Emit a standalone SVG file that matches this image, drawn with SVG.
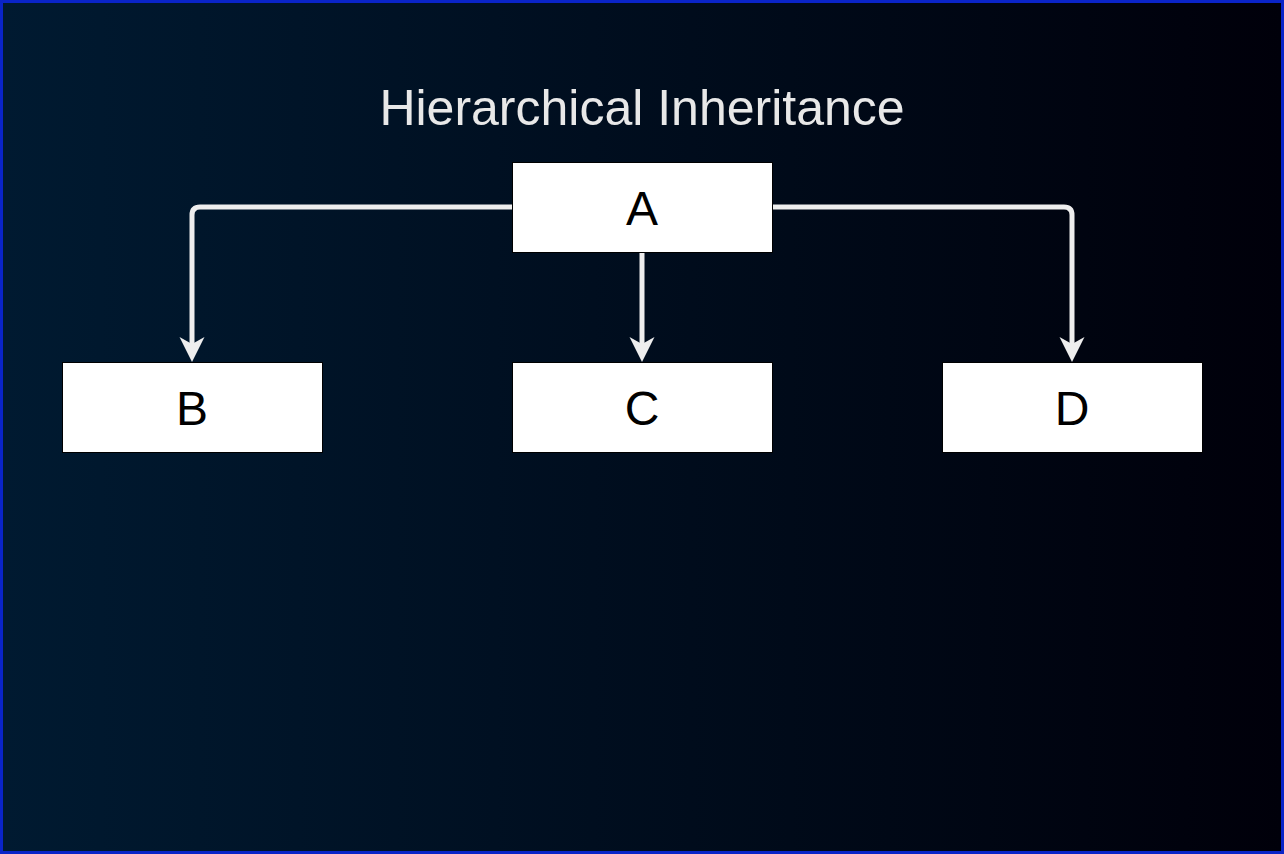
<svg xmlns="http://www.w3.org/2000/svg" width="1284" height="854" viewBox="0 0 1284 854">
  <defs>
    <linearGradient id="bg" x1="0" y1="0" x2="1" y2="0">
      <stop offset="0" stop-color="#001a31"/>
      <stop offset="1" stop-color="#00000a"/>
    </linearGradient>
    <marker id="ah" markerUnits="userSpaceOnUse" markerWidth="30" markerHeight="30" viewBox="-15 -12 30 30" refX="0" refY="0" orient="0" overflow="visible">
      <path d="M0 17 L-12.5 -8 L0 -1 L12.5 -8 Z" fill="#eeeeee"/>
    </marker>
  </defs>
  <style>
    .node rect { fill: #ffffff; stroke: #000000; stroke-width: 1; }
    .node text { font-family: "Liberation Sans", Arial, sans-serif; font-size: 48px; fill: #000000; text-anchor: middle; }
    .edge { fill: none; stroke: #eeeeee; stroke-width: 5; stroke-linejoin: round; marker-end: url(#ah); }
    .title { font-family: "Liberation Sans", Arial, sans-serif; font-size: 50px; fill: #e8e8e8; text-anchor: middle; }
  </style>
  <rect x="1.5" y="1.5" width="1281" height="851" fill="url(#bg)" stroke="#0a24c8" stroke-width="3"/>
  <text class="title" x="642" y="125">Hierarchical Inheritance</text>
  <g id="connectors">
    <path class="edge" d="M512 207 L200 207 Q192 207 192 215 L192 345"/>
    <path class="edge" d="M642 252 L642 345"/>
    <path class="edge" d="M772 207 L1064 207 Q1072 207 1072 215 L1072 345"/>
  </g>
  <g id="node-A" class="node">
    <rect x="512.5" y="162.5" width="260" height="90"/>
    <text x="642" y="225">A</text>
  </g>
  <g id="node-B" class="node">
    <rect x="62.5" y="362.5" width="260" height="90"/>
    <text x="192" y="425">B</text>
  </g>
  <g id="node-C" class="node">
    <rect x="512.5" y="362.5" width="260" height="90"/>
    <text x="642" y="425">C</text>
  </g>
  <g id="node-D" class="node">
    <rect x="942.5" y="362.5" width="260" height="90"/>
    <text x="1072" y="425">D</text>
  </g>
</svg>
